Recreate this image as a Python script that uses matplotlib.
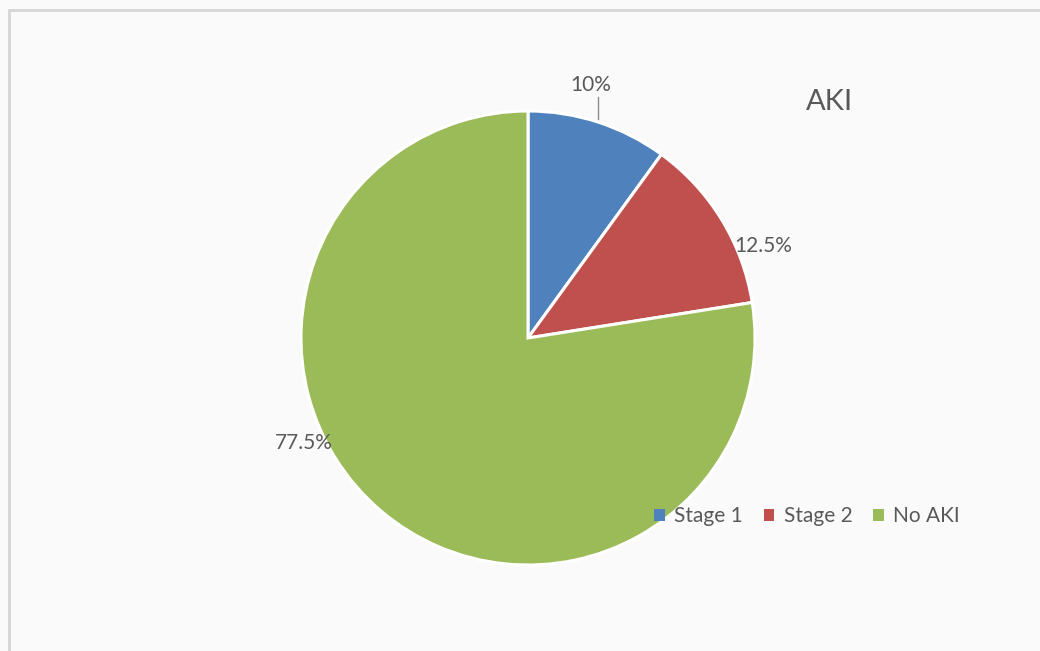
import matplotlib.pyplot as plt
from matplotlib.patches import Rectangle

# AKI staging shares (percent)
categories = ['Stage 1', 'Stage 2', 'No AKI']
shares = [10, 12.5, 77.5]
slice_colors = ['#4f81bd', '#c0504d', '#9bbb59']

plt.rcParams['font.family'] = ['Lato', 'DejaVu Sans']

W, H = 1040, 651
fig = plt.figure(figsize=(W / 100, H / 100), dpi=100, facecolor='#fafafa')
ax = fig.add_axes([0, 0, 1, 1])

# chart area border (only top/left edges fall inside the canvas)
ax.add_patch(Rectangle((9, -10), W + 20, H, fill=False,
                       edgecolor='#d6d6d6', linewidth=2))

cx, cy, r = 528, H - 338, 227
wedges, _ = ax.pie(shares, colors=slice_colors, startangle=90, counterclock=False,
                   center=(cx, cy), radius=r, frame=True,
                   wedgeprops=dict(edgecolor='white', linewidth=2.2))
ax.set_xlim(0, W)
ax.set_ylim(0, H)
ax.set_axis_off()

txt = dict(color='#595959', fontsize=15, ha='center', va='center')
ax.text(591, H - 85, f'{shares[0]:g}%', **txt)
ax.plot([598, 598], [H - 97, H - 119], color='#8c8c8c', linewidth=1)
ax.text(763, H - 246, f'{shares[1]:g}%', **txt)
ax.text(304, H - 443, f'{shares[2]:g}%', **txt)

ax.text(829, H - 102, 'AKI', color='#595959', fontsize=21, ha='center', va='center')

leg = ax.legend(wedges, categories, loc='center', bbox_to_anchor=(807, H - 516),
                bbox_transform=ax.transData, ncol=3, frameon=False,
                fontsize=15, handlelength=0.5, handleheight=0.5,
                handletextpad=0.45, columnspacing=1.0)
for t in leg.get_texts():
    t.set_color('#595959')
for h in leg.legend_handles:
    h.set_edgecolor('none')

fig.savefig('out.png', dpi=100, facecolor=fig.get_facecolor())
